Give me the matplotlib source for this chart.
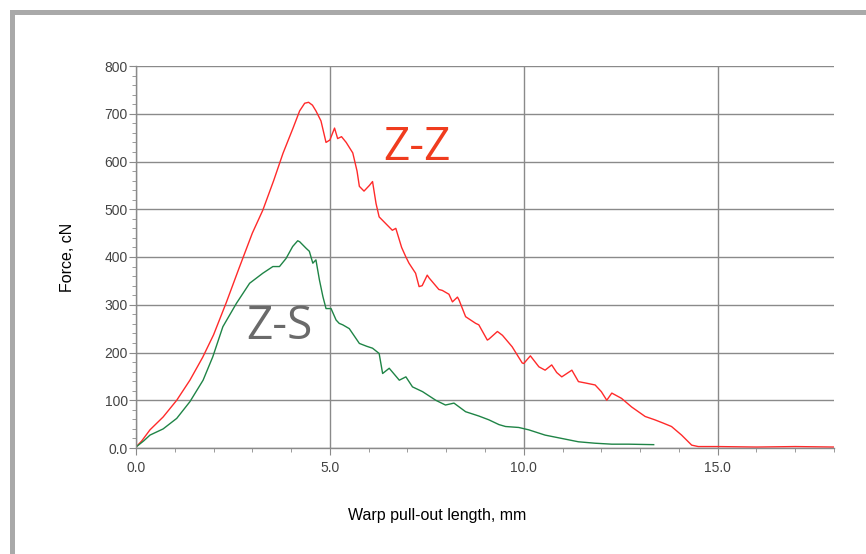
import matplotlib
matplotlib.use("Agg")
import matplotlib.pyplot as plt
from matplotlib.patches import Rectangle
from matplotlib.ticker import MultipleLocator

# Z-Z sample (red)
x_zz = [0.0, 0.15, 0.36, 0.7, 1.05, 1.39, 1.72, 2.0, 2.33, 2.65, 3.0, 3.27, 3.55, 3.79,
        4.05, 4.22, 4.35, 4.45, 4.55, 4.64, 4.77, 4.9, 5.0, 5.12, 5.2, 5.3, 5.42, 5.59,
        5.7, 5.76, 5.88, 6.02, 6.1, 6.19, 6.27, 6.44, 6.61, 6.7, 6.85, 6.96, 7.04, 7.21,
        7.3, 7.38, 7.51, 7.56, 7.81, 7.9, 8.07, 8.16, 8.29, 8.33, 8.5, 8.76, 8.84, 9.06,
        9.1, 9.32, 9.45, 9.7, 9.96, 10.0, 10.17, 10.39, 10.55, 10.72, 10.85, 10.98, 11.24,
        11.41, 11.6, 11.84, 12.0, 12.14, 12.27, 12.52, 12.78, 13.13, 13.38, 13.6, 13.81,
        14.07, 14.33, 14.5, 15.0, 16.0, 17.0, 18.0]
f_zz = [2, 15, 38, 65, 100, 142, 190, 237, 305, 375, 450, 498, 560, 617,
        670, 706, 722, 724, 718, 706, 685, 640, 645, 670, 648, 652, 640, 618,
        580, 548, 538, 550, 558, 512, 484, 470, 456, 460, 420, 400, 387, 366,
        338, 340, 362, 356, 332, 330, 322, 306, 316, 310, 275, 261, 258, 226,
        228, 244, 236, 212, 178, 177, 193, 170, 163, 174, 158, 149, 163,
        139, 136, 132, 118, 100, 115, 104, 86, 66, 59, 52, 45,
        27, 6, 3, 3, 2, 3, 2]

# Z-S sample (green)
x_zs = [0.0, 0.2, 0.36, 0.7, 1.05, 1.39, 1.73, 1.98, 2.24, 2.59, 2.93, 3.27, 3.53, 3.7,
        3.87, 4.04, 4.17, 4.22, 4.39, 4.47, 4.56, 4.64, 4.73, 4.82, 4.9, 5.03, 5.16, 5.24,
        5.33, 5.5, 5.76, 5.95, 6.1, 6.27, 6.36, 6.53, 6.79, 6.96, 7.13, 7.39, 7.73, 7.98,
        8.2, 8.5, 8.84, 9.1, 9.36, 9.53, 9.87, 10.13, 10.55, 10.98, 11.41, 11.84, 12.27,
        12.7, 13.35]
f_zs = [2, 15, 27, 40, 62, 97, 142, 191, 254, 303, 345, 366, 380, 380,
        397, 422, 434, 432, 418, 412, 387, 394, 352, 317, 292, 292, 268, 261,
        258, 250, 219, 213, 209, 198, 156, 167, 142, 149, 128, 118, 100, 90,
        94, 76, 67, 59, 49, 45, 43, 38, 27, 20, 13, 10, 8,
        8, 7]

x_ticks = [0, 5, 10, 15]
x_ticklabels = ["0.0", "5.0", "10.0", "15.0"]
y_ticks = [0, 100, 200, 300, 400, 500, 600, 700, 800]
y_ticklabels = ["0.0", "100", "200", "300", "400", "500", "600", "700", "800"]

plt.rcParams['font.family'] = ['Liberation Sans', 'DejaVu Sans']

fig = plt.figure(figsize=(8.66, 5.54), dpi=100)
ax = fig.add_axes([136 / 866, 1 - 448 / 554, (834 - 136) / 866, (448 - 66) / 554])

# grey frame on top and left
fig.add_artist(Rectangle((10 / 866, 0), 5 / 866, 1 - 10 / 554, transform=fig.transFigure,
                         color="#a9a9a9", lw=0))
fig.add_artist(Rectangle((10 / 866, 1 - 15 / 554), 1, 5 / 554, transform=fig.transFigure,
                         color="#a9a9a9", lw=0))

ax.plot(x_zz, f_zz, color="#ff2a2a", lw=1.0)
ax.plot(x_zs, f_zs, color="#1f8446", lw=1.0)

ax.set_xlim(0, 18)
ax.set_ylim(0, 800)
ax.set_xticks(x_ticks, x_ticklabels)
ax.set_yticks(y_ticks, y_ticklabels)
ax.xaxis.set_minor_locator(MultipleLocator(1))
ax.yaxis.set_minor_locator(MultipleLocator(20))
ax.grid(True, which="major", color="#8a8a8a", lw=1.0)
ax.set_axisbelow(True)

for s in ("top", "right"):
    ax.spines[s].set_visible(False)
for s in ("left", "bottom"):
    ax.spines[s].set_color("#8a8a8a")
    ax.spines[s].set_linewidth(1.0)

ax.tick_params(which="major", length=5, color="#8a8a8a", labelsize=10, labelcolor="#444444")
ax.tick_params(which="minor", length=3, color="#8a8a8a")
ax.tick_params(axis="x", pad=4)
ax.tick_params(axis="y", pad=1)

ax.set_xlabel("Warp pull-out length, mm", fontsize=11.5)
ax.set_ylabel("Force, cN", fontsize=11.5)
ax.xaxis.set_label_coords((437 - 136) / 698, -(508 - 448) / 382)
ax.yaxis.set_label_coords(-(136 - 75) / 698, (448 - 257) / 382)

ax.text(7.25, 628, "Z-Z", color="#f03c1e", fontsize=33, family="Open Sans",
        ha="center", va="center")
ax.text(3.7, 253, "Z-S", color="#6a6a6a", fontsize=33, family="Open Sans",
        ha="center", va="center")

fig.savefig("out.png", dpi=100)
